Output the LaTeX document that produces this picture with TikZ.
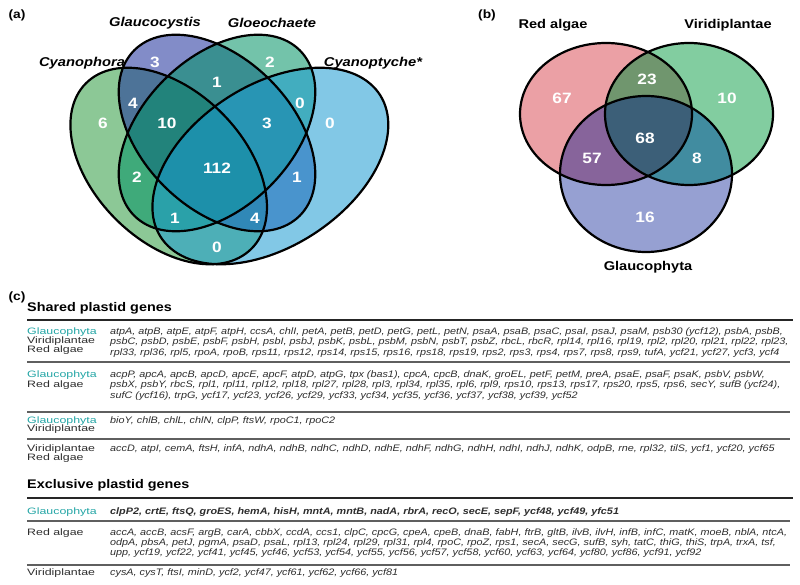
\documentclass[tikz,border=0pt]{standalone}
\usepackage{fontspec}
\setmainfont{Liberation Sans}[FakeStretch=1.15]
\newfontfamily\widefont{Liberation Sans}[FakeStretch=1.33]
\usetikzlibrary{positioning}
\definecolor{cyanophora}{RGB}{46,155,64}
\definecolor{glaucocystis}{RGB}{27,46,155}
\definecolor{gloeochaete}{RGB}{0,146,100}
\definecolor{cyanoptyche}{RGB}{27,155,210}
\definecolor{redalg}{RGB}{235,160,165}
\definecolor{viridi}{RGB}{130,205,160}
\definecolor{glauco}{RGB}{150,160,210}
\definecolor{redviridi}{RGB}{112,150,110}
\definecolor{redglauco}{RGB}{135,100,155}
\definecolor{viridiglauco}{RGB}{65,140,160}
\definecolor{allthree}{RGB}{60,95,120}
\definecolor{glaucotext}{RGB}{35,165,165}
\definecolor{genetext}{RGB}{45,45,45}
\definecolor{rulegray}{RGB}{95,95,95}
\begin{document}
\begin{tikzpicture}[x=1pt,y=-1pt,
    num/.style={text=white,font=\bfseries\fontsize{15}{15}\selectfont,inner sep=0},
    taxon/.style={font=\bfseries\itshape\fontsize{12.8}{13}\selectfont,inner sep=0},
    grplabel/.style={font=\bfseries\fontsize{12.7}{13}\selectfont,inner sep=0},
    panel/.style={font=\bfseries\fontsize{12}{12}\selectfont,inner sep=0},
    heading/.style={anchor=west,font=\bfseries\fontsize{12.5}{13}\selectfont,inner sep=0},
    rowlabel/.style={anchor=west,font=\widefont\fontsize{9.3}{10}\selectfont,inner sep=0,text=genetext},
    genes/.style={anchor=west,font=\itshape\fontsize{9.4}{10}\selectfont,inner sep=0,text=genetext},
    vennline/.style={draw=black,line width=2.2pt},
    thickrule/.style={line width=2.2pt,draw=black!85},
    rowrule/.style={line width=1.2pt,draw=rulegray}]
\useasboundingbox (0,0) rectangle (800,585);

% (a) four ellipses
\foreach \cx/\cy/\ang/\k/\col in {168.7/166/-45/1/cyanophora,217/133/-45/1/glaucocystis,
    217/133/45/1/gloeochaete,265.3/166/45/1.2/cyanoptyche}
  \fill[\col,opacity=.55,xshift=240pt,xscale=\k,xshift=-240pt,rotate around={\ang:(\cx,\cy)}]
    (\cx,\cy) ellipse [x radius=117,y radius=75];
\foreach \cx/\cy/\ang/\k in {168.7/166/-45/1,217/133/-45/1,217/133/45/1,265.3/166/45/1.2}
  \draw[vennline,xshift=240pt,xscale=\k,xshift=-240pt,rotate around={\ang:(\cx,\cy)}]
    (\cx,\cy) ellipse [x radius=117,y radius=75];

\node[panel] (pa) at (17,15) {(a)};
\node[taxon] (glaucocystis) at (155,23) {Glaucocystis};
\node[taxon] (gloeochaete) at (272,23) {Gloeochaete};
\node[taxon] (cyanophora) at (82,63) {Cyanophora};
\node[taxon] (cyanoptyche) at (373,63) {Cyanoptyche*};
\foreach \x/\y/\n [count=\i] in {155/62/3,270/62/2,217/82/1,133/103/4,300/103/0,103/123/6,
    167/123/10,267/123/3,330/123/0,217/168/112,137/177/2,297/177/1,175/218/1,255/218/4,217/247/0}
  \node[num] (na\i) at (\x,\y) {\n};

% (b) three ellipses
\fill[redalg] (606,114) ellipse [x radius=86,y radius=71];
\fill[viridi] (689,114) ellipse [x radius=84,y radius=71];
\fill[glauco] (646,174) ellipse [x radius=86,y radius=78];
\begin{scope}
  \clip (606,114) ellipse [x radius=86,y radius=71];
  \fill[redviridi] (689,114) ellipse [x radius=84,y radius=71];
  \fill[redglauco] (646,174) ellipse [x radius=86,y radius=78];
\end{scope}
\begin{scope}
  \clip (689,114) ellipse [x radius=84,y radius=71];
  \fill[viridiglauco] (646,174) ellipse [x radius=86,y radius=78];
\end{scope}
\begin{scope}
  \clip (606,114) ellipse [x radius=86,y radius=71];
  \clip (689,114) ellipse [x radius=84,y radius=71];
  \fill[allthree] (646,174) ellipse [x radius=86,y radius=78];
\end{scope}
\draw[vennline] (606,114) ellipse [x radius=86,y radius=71];
\draw[vennline] (689,114) ellipse [x radius=84,y radius=71];
\draw[vennline] (646,174) ellipse [x radius=86,y radius=78];

\node[panel] (pb) at (487,15) {(b)};
\node[grplabel] (redalgae) at (553,25) {Red algae};
\node[grplabel] (viridiplantae) at (728,25) {Viridiplantae};
\node[grplabel] (glaucophyta) at (648,267) {Glaucophyta};
\foreach \x/\y/\n [count=\i] in {562/98/67,647/79/23,727/98/10,645/138/68,592/158/57,697/158/8,645/217/16}
  \node[num] (nb\i) at (\x,\y) {\n};

% (c) gene table
\node[panel] (pc) at (17,297) {(c)};
\node[heading] (shared) at (27,308) {Shared plastid genes};
\draw[thickrule] (27,320) -- (793,320);

\node[rowlabel,text=glaucotext] (r1g) at (27,332) {Glaucophyta};
\node[rowlabel] (r1v) [below=9pt of r1g.west,anchor=west] {Viridiplantae};
\node[rowlabel] (r1r) [below=9pt of r1v.west,anchor=west] {Red algae};
\node[genes] (s1a) at (110,332) {atpA, atpB, atpE, atpF, atpH, ccsA, chlI, petA, petB, petD, petG, petL, petN, psaA, psaB, psaC, psaI, psaJ, psaM, psb30 (ycf12), psbA, psbB,};
\node[genes] (s1b) at (110,342.5) {psbC, psbD, psbE, psbF, psbH, psbI, psbJ, psbK, psbL, psbM, psbN, psbT, psbZ, rbcL, rbcR, rpl14, rpl16, rpl19, rpl2, rpl20, rpl21, rpl22, rpl23,};
\node[genes] (s1c) at (110,353) {rpl33, rpl36, rpl5, rpoA, rpoB, rps11, rps12, rps14, rps15, rps16, rps18, rps19, rps2, rps3, rps4, rps7, rps8, rps9, tufA, ycf21, ycf27, ycf3, ycf4};
\draw[rowrule] (27,362) -- (790,362);

\node[rowlabel,text=glaucotext] (r2g) at (27,375.5) {Glaucophyta};
\node[rowlabel] (r2r) [below=9.5pt of r2g.west,anchor=west] {Red algae};
\node[genes] (s2a) at (110,375.5) {acpP, apcA, apcB, apcD, apcE, apcF, atpD, atpG, tpx (bas1), cpcA, cpcB, dnaK, groEL, petF, petM, preA, psaE, psaF, psaK, psbV, psbW,};
\node[genes] (s2b) at (110,385.5) {psbX, psbY, rbcS, rpl1, rpl11, rpl12, rpl18, rpl27, rpl28, rpl3, rpl34, rpl35, rpl6, rpl9, rps10, rps13, rps17, rps20, rps5, rps6, secY, sufB (ycf24),};
\node[genes] (s2c) at (110,396) {sufC (ycf16), trpG, ycf17, ycf23, ycf26, ycf29, ycf33, ycf34, ycf35, ycf36, ycf37, ycf38, ycf39, ycf52};
\draw[rowrule] (27,412) -- (790,412);

\node[rowlabel,text=glaucotext] (r3g) at (27,421) {Glaucophyta};
\node[rowlabel] (r3v) [below=8.5pt of r3g.west,anchor=west] {Viridiplantae};
\node[genes] (s3a) at (110,421) {bioY, chlB, chlL, chlN, clpP, ftsW, rpoC1, rpoC2};
\draw[rowrule] (27,439) -- (790,439);

\node[rowlabel] (r4v) at (27,449) {Viridiplantae};
\node[rowlabel] (r4r) [below=9pt of r4v.west,anchor=west] {Red algae};
\node[genes] (s4a) at (110,449) {accD, atpI, cemA, ftsH, infA, ndhA, ndhB, ndhC, ndhD, ndhE, ndhF, ndhG, ndhH, ndhI, ndhJ, ndhK, odpB, rne, rpl32, tilS, ycf1, ycf20, ycf65};

\node[heading] (exclusive) at (27,485) {Exclusive plastid genes};
\draw[thickrule] (27,498) -- (793,498);

\node[rowlabel,text=glaucotext] (e1g) at (27,512) {Glaucophyta};
\node[genes,font=\bfseries\itshape\fontsize{9.4}{10}\selectfont] (x1a) at (110,512) {clpP2, crtE, ftsQ, groES, hemA, hisH, mntA, mntB, nadA, rbrA, recO, secE, sepF, ycf48, ycf49, yfc51};
\draw[rowrule] (27,521) -- (790,521);

\node[rowlabel] (e2r) at (27,533.5) {Red algae};
\node[genes] (x2a) at (110,533.5) {accA, accB, acsF, argB, carA, cbbX, ccdA, ccs1, clpC, cpcG, cpeA, cpeB, dnaB, fabH, ftrB, gltB, ilvB, ilvH, infB, infC, matK, moeB, nblA, ntcA,};
\node[genes] (x2b) at (110,543.5) {odpA, pbsA, petJ, pgmA, psaD, psaL, rpl13, rpl24, rpl29, rpl31, rpl4, rpoC, rpoZ, rps1, secA, secG, sufB, syh, tatC, thiG, thiS, trpA, trxA, tsf,};
\node[genes] (x2c) at (110,553.5) {upp, ycf19, ycf22, ycf41, ycf45, ycf46, ycf53, ycf54, ycf55, ycf56, ycf57, ycf58, ycf60, ycf63, ycf64, ycf80, ycf86, ycf91, ycf92};
\draw[rowrule] (27,565) -- (790,565);

\node[rowlabel] (e3v) at (27,573) {Viridiplantae};
\node[genes] (x3a) at (110,573) {cysA, cysT, ftsI, minD, ycf2, ycf47, ycf61, ycf62, ycf66, ycf81};
\end{tikzpicture}
\end{document}
